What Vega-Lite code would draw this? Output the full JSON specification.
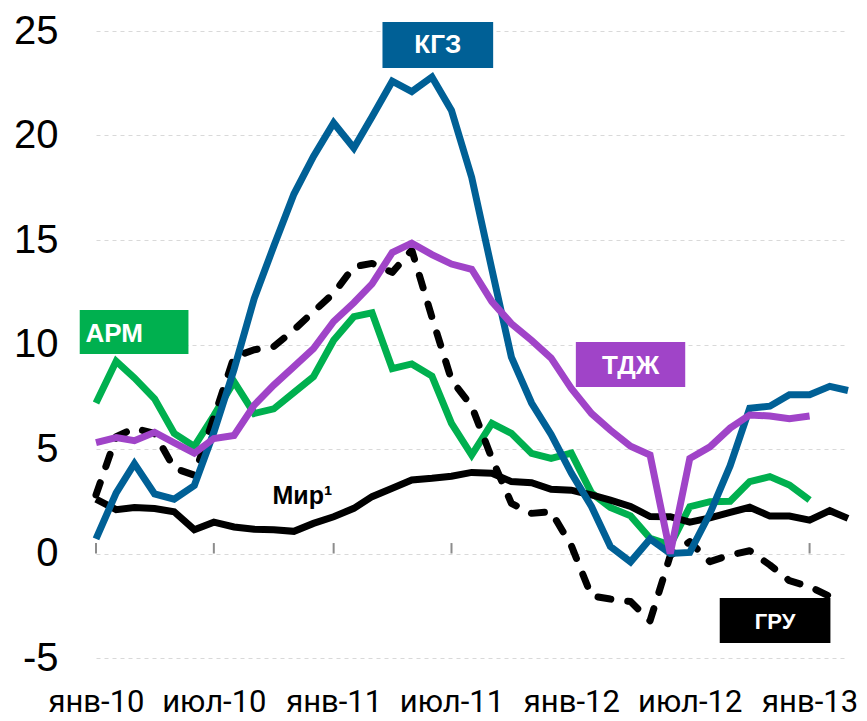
{
  "$schema": "https://vega.github.io/schema/vega-lite/v6.json",
  "width": 752,
  "height": 627,
  "autosize": {"type": "none"},
  "padding": {"left": 96, "top": 31, "right": 19, "bottom": 63},
  "config": {"view": {"stroke": null}},
  "datasets": {
    "series": [
      {"date": "2010-01-01", "АРМ": 7.2, "Мир": 2.6, "ГРУ": 2.8, "КГЗ": 0.7, "ТДЖ": 5.3},
      {"date": "2010-02-01", "АРМ": 9.2, "Мир": 2.1, "ГРУ": 5.59, "КГЗ": 2.9, "ТДЖ": 5.55},
      {"date": "2010-03-01", "АРМ": 8.4, "Мир": 2.2, "ГРУ": 5.99, "КГЗ": 4.3, "ТДЖ": 5.4},
      {"date": "2010-04-01", "АРМ": 7.4, "Мир": 2.15, "ГРУ": 5.75, "КГЗ": 2.85, "ТДЖ": 5.8},
      {"date": "2010-05-01", "АРМ": 5.75, "Мир": 2.0, "ГРУ": 4.08, "КГЗ": 2.6, "ТДЖ": 5.3},
      {"date": "2010-06-01", "АРМ": 5.12, "Мир": 1.14, "ГРУ": 3.75, "КГЗ": 3.25, "ТДЖ": 4.8},
      {"date": "2010-07-01", "АРМ": 6.6, "Мир": 1.5, "ГРУ": 6.5, "КГЗ": 5.8, "ТДЖ": 5.5},
      {"date": "2010-08-01", "АРМ": 8.22, "Мир": 1.27, "ГРУ": 9.4, "КГЗ": 8.8, "ТДЖ": 5.65},
      {"date": "2010-09-01", "АРМ": 6.7, "Мир": 1.16, "ГРУ": 9.75, "КГЗ": 12.2, "ТДЖ": 7.1},
      {"date": "2010-10-01", "АРМ": 6.92, "Мир": 1.14, "ГРУ": 9.9, "КГЗ": 14.7, "ТДЖ": 8.06},
      {"date": "2010-11-01", "АРМ": 7.7, "Мир": 1.06, "ГРУ": 10.7, "КГЗ": 17.2, "ТДЖ": 8.94},
      {"date": "2010-12-01", "АРМ": 8.46, "Мир": 1.44, "ГРУ": 11.57, "КГЗ": 19.0, "ТДЖ": 9.8},
      {"date": "2011-01-01", "АРМ": 10.2, "Мир": 1.76, "ГРУ": 12.45, "КГЗ": 20.6, "ТДЖ": 11.1},
      {"date": "2011-02-01", "АРМ": 11.33, "Мир": 2.16, "ГРУ": 13.72, "КГЗ": 19.4, "ТДЖ": 12.0},
      {"date": "2011-03-01", "АРМ": 11.52, "Мир": 2.72, "ГРУ": 13.88, "КГЗ": 20.9, "ТДЖ": 12.9},
      {"date": "2011-04-01", "АРМ": 8.85, "Мир": 3.12, "ГРУ": 13.45, "КГЗ": 22.6, "ТДЖ": 14.4},
      {"date": "2011-05-01", "АРМ": 9.07, "Мир": 3.52, "ГРУ": 14.52, "КГЗ": 22.1, "ТДЖ": 14.85},
      {"date": "2011-06-01", "АРМ": 8.49, "Мир": 3.6, "ГРУ": 11.3, "КГЗ": 22.8, "ТДЖ": 14.3},
      {"date": "2011-07-01", "АРМ": 6.23, "Мир": 3.7, "ГРУ": 8.3, "КГЗ": 21.2, "ТДЖ": 13.85},
      {"date": "2011-08-01", "АРМ": 4.71, "Мир": 3.88, "ГРУ": 7.05, "КГЗ": 18.0, "ТДЖ": 13.6},
      {"date": "2011-09-01", "АРМ": 6.23, "Мир": 3.84, "ГРУ": 4.55, "КГЗ": 13.6, "ТДЖ": 12.05},
      {"date": "2011-10-01", "АРМ": 5.75, "Мир": 3.44, "ГРУ": 2.4, "КГЗ": 9.4, "ТДЖ": 11.0},
      {"date": "2011-11-01", "АРМ": 4.79, "Мир": 3.39, "ГРУ": 1.92, "КГЗ": 7.2, "ТДЖ": 10.2},
      {"date": "2011-12-01", "АРМ": 4.55, "Мир": 3.07, "ГРУ": 2.0, "КГЗ": 5.7, "ТДЖ": 9.35},
      {"date": "2012-01-01", "АРМ": 4.8, "Мир": 3.03, "ГРУ": 0.38, "КГЗ": 3.85, "ТДЖ": 7.9},
      {"date": "2012-02-01", "АРМ": 2.9, "Мир": 2.8, "ГРУ": -2.03, "КГЗ": 2.25, "ТДЖ": 6.7},
      {"date": "2012-03-01", "АРМ": 2.2, "Мир": 2.55, "ГРУ": -2.18, "КГЗ": 0.33, "ТДЖ": 5.9},
      {"date": "2012-04-01", "АРМ": 1.8, "Мир": 2.25, "ГРУ": -2.3, "КГЗ": -0.4, "ТДЖ": 5.13},
      {"date": "2012-05-01", "АРМ": 0.73, "Мир": 1.77, "ГРУ": -3.22, "КГЗ": 0.7, "ТДЖ": 4.71},
      {"date": "2012-06-01", "АРМ": 0.4, "Мир": 1.76, "ГРУ": -0.1, "КГЗ": 0.0, "ТДЖ": 0.0},
      {"date": "2012-07-01", "АРМ": 2.24, "Мир": 1.5, "ГРУ": 0.57, "КГЗ": 0.05, "ТДЖ": 4.55},
      {"date": "2012-08-01", "АРМ": 2.48, "Мир": 1.7, "ГРУ": -0.39, "КГЗ": 1.92, "ТДЖ": 5.1},
      {"date": "2012-09-01", "АРМ": 2.5, "Мир": 1.97, "ГРУ": -0.07, "КГЗ": 4.2, "ТДЖ": 6.0},
      {"date": "2012-10-01", "АРМ": 3.44, "Мир": 2.21, "ГРУ": 0.13, "КГЗ": 6.95, "ТДЖ": 6.63},
      {"date": "2012-11-01", "АРМ": 3.68, "Мир": 1.79, "ГРУ": -0.55, "КГЗ": 7.05, "ТДЖ": 6.58},
      {"date": "2012-12-01", "АРМ": 3.28, "Мир": 1.79, "ГРУ": -1.3, "КГЗ": 7.6, "ТДЖ": 6.45},
      {"date": "2013-01-01", "АРМ": 2.56, "Мир": 1.6, "ГРУ": -1.59, "КГЗ": 7.6, "ТДЖ": 6.58},
      {"date": "2013-02-01", "Мир": 2.05, "ГРУ": -2.05, "КГЗ": 8.0},
      {"date": "2013-03-01", "Мир": 1.68, "КГЗ": 7.8}
    ],
    "labels": [
      {"series": "КГЗ", "text": "КГЗ", "date": "2011-06-10", "value": 24.33, "x0": "2011-03-17", "x1": "2011-09-03", "y0": 23.23, "y1": 25.43},
      {"series": "АРМ", "text": "АРМ", "date": "2010-01-29", "value": 10.5, "x0": "2009-12-07", "x1": "2010-05-23", "y0": 9.55, "y1": 11.65},
      {"series": "ТДЖ", "text": "ТДЖ", "date": "2012-04-01", "value": 8.95, "x0": "2012-01-08", "x1": "2012-06-24", "y0": 7.97, "y1": 10.12},
      {"series": "ГРУ", "text": "ГРУ", "date": "2012-11-09", "value": -3.3, "x0": "2012-08-16", "x1": "2013-02-02", "y0": -4.28, "y1": -2.13}
    ],
    "notes": [
      {"series": "Мир", "text": "Мир¹", "date": "2010-11-14", "value": 2.75}
    ],
    "ticks": [
      {"date": "2010-01-01"}, {"date": "2010-07-01"}, {"date": "2011-01-01"},
      {"date": "2011-07-01"}, {"date": "2012-01-01"}, {"date": "2012-07-01"}, {"date": "2013-01-01"}
    ]
  },
  "layer": [
    {
      "data": {"name": "ticks"},
      "mark": {"type": "rule", "color": "#8c8c8c", "strokeWidth": 2},
      "encoding": {
        "x": {"field": "date", "type": "temporal",
          "scale": {"type": "utc", "domain": [{"year": 2010, "month": 1, "date": 1, "utc": true}, {"year": 2013, "month": 3, "date": 1, "utc": true}]},
          "axis": {
            "values": [
              {"year": 2010, "month": 1, "date": 1, "utc": true},
              {"year": 2010, "month": 7, "date": 1, "utc": true},
              {"year": 2011, "month": 1, "date": 1, "utc": true},
              {"year": 2011, "month": 7, "date": 1, "utc": true},
              {"year": 2012, "month": 1, "date": 1, "utc": true},
              {"year": 2012, "month": 7, "date": 1, "utc": true},
              {"year": 2013, "month": 1, "date": 1, "utc": true}
            ],
            "labelExpr": "['янв','фев','мар','апр','май','июн','июл','авг','сен','окт','ноя','дек'][utcmonth(datum.value)] + '-' + utcFormat(datum.value, '%y')",
            "title": null, "domain": false, "ticks": false, "tickSize": 0, "grid": false,
            "labelFont": "Roboto", "labelFontSize": 31, "labelColor": "#000000",
            "labelPadding": 29, "labelAngle": 0, "labelOverlap": false, "labelFlush": false, "labelBound": false
          }
        },
        "y": {"datum": 0, "type": "quantitative",
          "scale": {"domain": [-5, 25], "nice": false, "zero": false},
          "axis": {
            "values": [-5, 0, 5, 10, 15, 20, 25],
            "labelExpr": "datum.value < 0 ? '-' + abs(datum.value) : '' + datum.value",
            "title": null, "domain": false, "ticks": false, "tickSize": 0,
            "grid": true, "gridColor": "#d9d9d9", "gridDash": [4, 4], "gridWidth": 1,
            "labelFont": "Liberation Sans", "labelFontSize": 40, "labelColor": "#000000", "labelPadding": 38
          }
        },
        "y2": {"datum": 0.5}
      }
    },
    {
      "mark": {"type": "rule", "color": "#8c8c8c", "strokeWidth": 2.5},
      "encoding": {"y": {"datum": 0, "type": "quantitative"}}
    },
    {
      "data": {"name": "series"},
      "transform": [
        {"fold": ["АРМ", "Мир"], "as": ["series", "value"]},
        {"filter": "isValid(datum.value)"}
      ],
      "mark": {"type": "line", "strokeWidth": 7, "strokeJoin": "miter"},
      "encoding": {
        "x": {"field": "date", "type": "temporal"},
        "y": {"field": "value", "type": "quantitative"},
        "color": {"field": "series", "type": "nominal",
          "scale": {"domain": ["КГЗ", "АРМ", "ТДЖ", "ГРУ", "Мир"], "range": ["#006096", "#00B04F", "#A044C8", "#000000", "#000000"]},
          "legend": null}
      }
    },
    {
      "data": {"name": "series"},
      "transform": [
        {"fold": ["ГРУ"], "as": ["series", "value"]},
        {"filter": "isValid(datum.value)"}
      ],
      "mark": {"type": "line", "strokeWidth": 7, "strokeDash": [13, 17], "strokeCap": "round", "strokeJoin": "round"},
      "encoding": {
        "x": {"field": "date", "type": "temporal"},
        "y": {"field": "value", "type": "quantitative"},
        "color": {"field": "series", "type": "nominal", "legend": null}
      }
    },
    {
      "data": {"name": "series"},
      "transform": [
        {"fold": ["КГЗ", "ТДЖ"], "as": ["series", "value"]},
        {"filter": "isValid(datum.value)"}
      ],
      "mark": {"type": "line", "strokeWidth": 7, "strokeJoin": "miter"},
      "encoding": {
        "x": {"field": "date", "type": "temporal"},
        "y": {"field": "value", "type": "quantitative"},
        "color": {"field": "series", "type": "nominal", "legend": null}
      }
    },
    {
      "data": {"name": "labels"},
      "mark": {"type": "rect"},
      "encoding": {
        "x": {"field": "x0", "type": "temporal"},
        "x2": {"field": "x1"},
        "y": {"field": "y0", "type": "quantitative"},
        "y2": {"field": "y1"},
        "color": {"field": "series", "type": "nominal", "legend": null}
      }
    },
    {
      "data": {"name": "labels"},
      "transform": [{"filter": "datum.series != 'ГРУ'"}],
      "mark": {"type": "text", "color": "#ffffff", "font": "Liberation Sans", "fontWeight": "bold", "fontSize": 26, "align": "center", "baseline": "middle"},
      "encoding": {
        "x": {"field": "date", "type": "temporal"},
        "y": {"field": "value", "type": "quantitative"},
        "text": {"field": "text"}
      }
    },
    {
      "data": {"name": "labels"},
      "transform": [{"filter": "datum.series == 'ГРУ'"}],
      "mark": {"type": "text", "color": "#ffffff", "font": "Liberation Sans", "fontWeight": "bold", "fontSize": 22, "align": "center", "baseline": "middle"},
      "encoding": {
        "x": {"field": "date", "type": "temporal"},
        "y": {"field": "value", "type": "quantitative"},
        "text": {"field": "text"}
      }
    },
    {
      "data": {"name": "notes"},
      "mark": {"type": "text", "color": "#000000", "font": "Liberation Sans", "fontWeight": "bold", "fontSize": 25, "align": "center", "baseline": "middle"},
      "encoding": {
        "x": {"field": "date", "type": "temporal"},
        "y": {"field": "value", "type": "quantitative"},
        "text": {"field": "text"}
      }
    }
  ]
}
